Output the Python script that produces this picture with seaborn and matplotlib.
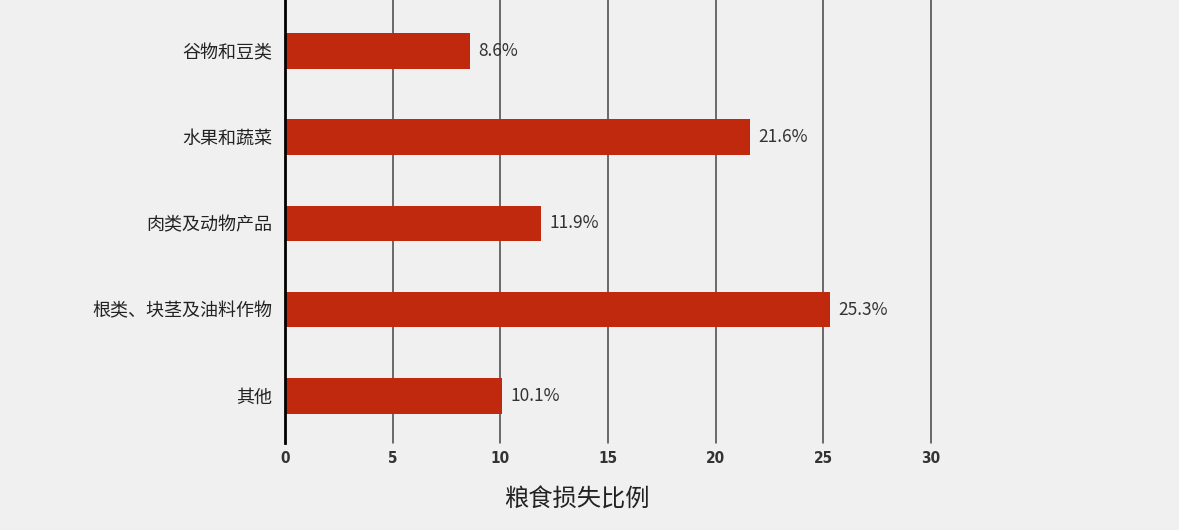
import matplotlib
matplotlib.use("Agg")
import matplotlib.pyplot as plt
import seaborn as sns
import pandas as pd

categories = ["谷物和豆类", "水果和蔬菜", "肉类及动物产品", "根类、块茎及油料作物", "其他"]
values = [8.6, 21.6, 11.9, 25.3, 10.1]
x_ticks = [0, 5, 10, 15, 20, 25, 30]
x_label = "粮食损失比例"

sns.set_theme(style="white")
plt.rcParams['font.family'] = ['Noto Sans CJK SC', 'DejaVu Sans']

bg = "#f0f0f0"
bar_color = "#c0290e"

df = pd.DataFrame({"category": categories, "value": values})

fig = plt.figure(figsize=(11.79, 5.30), dpi=100, facecolor=bg)
W, H = 1179, 530
left, right, top, bottom = 285, 931, 0, 443
ax = fig.add_axes([left / W, 1 - bottom / H, (right - left) / W, (bottom - top) / H])
ax.set_facecolor(bg)

sns.barplot(data=df, x="value", y="category", orient="h", color=bar_color,
            saturation=1, width=0.41, linewidth=0, edgecolor="none", ax=ax, zorder=3)

ax.set_xlim(0, 30)
ax.set_ylim(4.545, -0.59)
ax.set_xticks(x_ticks)
ax.set_xticklabels([str(t) for t in x_ticks],
                   fontdict={"family": "DejaVu Sans", "stretch": "condensed",
                             "weight": "bold", "size": 11, "color": "#333333"})
ax.tick_params(axis="x", length=0, pad=6)
ax.tick_params(axis="y", length=0, pad=9, labelsize=13, labelcolor="#222222")

for t in x_ticks[1:]:
    ax.axvline(t, color="#444444", linewidth=1.1, zorder=1, clip_on=False)

for s in ["top", "right", "bottom"]:
    ax.spines[s].set_visible(False)
ax.spines["left"].set_color("black")
ax.spines["left"].set_linewidth(2)
ax.spines["left"].set_zorder(4)

ax.set_ylabel("")
ax.set_xlabel(x_label, fontsize=17.5, color="#222222")
ax.xaxis.set_label_coords((577 - left) / (right - left), -(500 - bottom) / (bottom - top))
ax.xaxis.label.set_va("center")

for c in ax.containers:
    ax.bar_label(c, labels=[f"{v}%" for v in values], padding=6,
                 fontsize=12.5, color="#333333")

fig.savefig("out.png", dpi=100, facecolor=bg)
